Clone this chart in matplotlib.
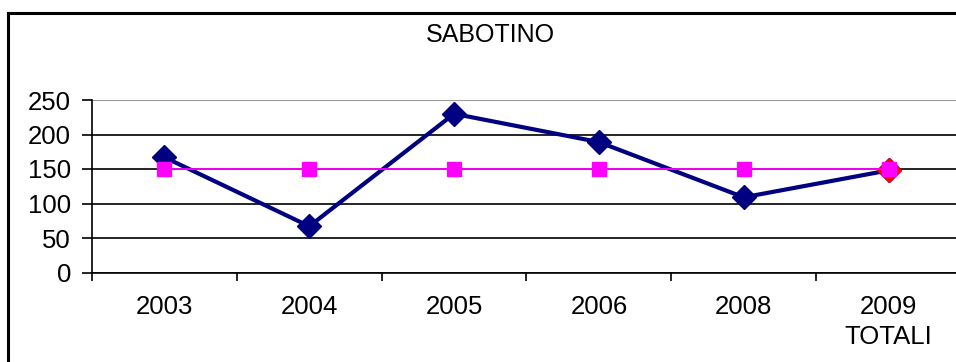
import matplotlib
matplotlib.use("Agg")
from matplotlib import pyplot as plt
from matplotlib.lines import Line2D

plt.rcParams["font.family"] = ["Liberation Sans", "DejaVu Sans"]

years = ["2003", "2004", "2005", "2006", "2008", "2009\nTOTALI"]
values = [167, 67, 230, 189, 109, 148]
average = [150, 150, 150, 150, 150, 150]
y_ticks = [0, 50, 100, 150, 200, 250]

W, H = 956, 362
fig = plt.figure(figsize=(W / 100, H / 100), dpi=100)
ax = fig.add_axes([92 / W, (H - 272.5) / H, 869 / W, 172.5 / H])

x = list(range(len(years)))
ax.plot(x, values, color="#000080", lw=3, marker="D", ms=12, zorder=3)
ax.plot(x[-1], values[-1], color="#FF0000", marker="D", ms=12, ls="none", zorder=4)
ax.plot(x, average, color="#FF00FF", lw=1.3, marker="s", ms=10.5, zorder=5)

ax.set_xlim(-0.5, len(years) - 0.5)
ax.set_ylim(0, 250)
ax.set_yticks(y_ticks)
ax.set_xticks(x)
ax.set_xticklabels(years, fontsize=18.5, linespacing=1.35)
ax.set_xticks([i - 0.5 for i in range(len(years) + 1)], minor=True)
ax.tick_params(axis="x", which="major", length=0, pad=16)
ax.tick_params(axis="x", which="minor", length=6, width=1.2, color="black")
ax.tick_params(axis="y", length=7, width=1.2, pad=8, labelsize=18.5)

ax.yaxis.grid(True, color="black", lw=1.2)
ax.set_axisbelow(True)
ax.get_ygridlines()[-1].set_color("#999999")
ax.get_ygridlines()[-1].set_linewidth(1.5)

for s in ["top", "right"]:
    ax.spines[s].set_visible(False)
ax.spines["left"].set_linewidth(1.2)
ax.spines["bottom"].set_linewidth(1.2)
ax.spines["left"].set_bounds(0, 250)

fig.text(490 / W, 1 - 35 / H, "SABOTINO", fontsize=18, ha="center", va="center")

# outer chart frame (only left and top visible in the crop)
fig.add_artist(Line2D([7.5 / W, 7.5 / W], [0, 1 - 13 / H], color="black", lw=2.2))
fig.add_artist(Line2D([7.5 / W, 1], [1 - 13 / H, 1 - 13 / H], color="black", lw=2.2))

fig.savefig("out.png", dpi=100, facecolor="white")
